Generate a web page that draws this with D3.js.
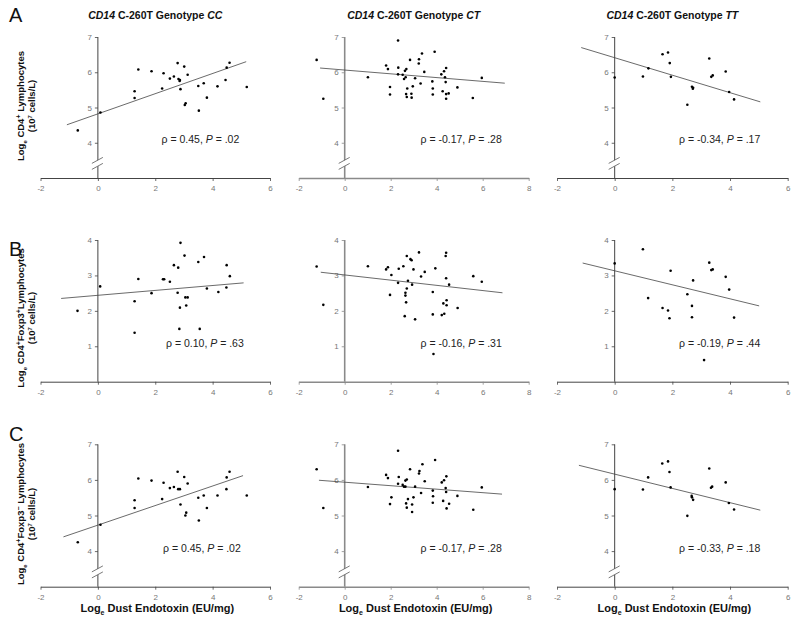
<!DOCTYPE html>
<html><head><meta charset="utf-8">
<script src="https://cdn.jsdelivr.net/npm/d3@7"></script>
<style>body{margin:0;background:#fff}svg{display:block}text{font-family:"Liberation Sans",Arial,sans-serif}</style>
</head><body><svg id="c" width="800" height="619"></svg>
<script>
// ---------- data ----------
const genotypes = ["CC", "CT", "TT"];
const rowLetters = ["A", "B", "C"];
const xTicksCol = [[-2,0,2,4,6],[-2,0,2,4,6,8],[-2,0,2,4,6]];
const yTicksRow = [[4,5,6,7],[1,2,3,4],[4,5,6,7]];

const aCC = [[-0.70,4.35],[0.09,4.86],[1.28,5.46],[1.28,5.27],[1.41,6.08],[1.87,6.03],[2.24,5.54],[2.29,5.97],[2.51,5.82],[2.65,5.88],[2.78,6.26],[2.81,5.81],[2.85,5.75],[2.86,5.78],[2.88,5.52],[3.01,6.16],[3.06,5.12],[3.03,5.07],[3.13,5.93],[3.50,5.61],[3.52,4.91],[3.69,5.69],[3.80,5.28],[4.17,5.60],[4.45,5.78],[4.49,6.13],[4.59,6.27],[5.19,5.58]];
const aCT = [[-1.22,6.35],[-0.93,5.25],[1.01,5.86],[1.80,6.19],[1.88,6.09],[1.97,5.58],[1.97,5.37],[2.32,6.90],[2.33,6.13],[2.32,5.94],[2.52,5.93],[2.58,5.81],[2.62,6.04],[2.65,5.86],[2.68,6.09],[2.67,5.38],[2.70,5.30],[2.72,5.54],[2.84,6.35],[2.90,5.39],[2.91,5.28],[2.96,5.60],[3.06,5.83],[3.22,6.25],[3.23,6.37],[3.30,5.68],[3.36,6.53],[3.46,6.01],[3.81,5.74],[3.83,5.54],[3.83,5.37],[3.91,6.58],[4.20,5.94],[4.26,5.46],[4.32,6.03],[4.36,5.86],[4.41,5.38],[4.41,6.12],[4.39,5.72],[4.41,5.25],[4.52,5.40],[4.90,5.57],[5.57,5.27],[5.96,5.84]];
const aTT = [[0,5.85],[0.98,5.88],[1.17,6.11],[1.66,6.51],[1.85,6.56],[1.91,6.26],[1.95,5.87],[2.52,5.08],[2.68,5.59],[2.71,5.53],[2.72,5.56],[3.28,6.39],[3.35,5.87],[3.40,5.91],[3.85,6.02],[3.97,5.44],[4.14,5.23]];

const bCC = [[-0.71,2.00],[0.08,2.69],[1.28,2.27],[1.28,1.38],[1.41,2.90],[1.87,2.50],[2.27,2.89],[2.31,2.89],[2.51,2.82],[2.65,3.29],[2.78,2.51],[2.80,3.22],[2.86,2.09],[2.88,3.92],[2.84,1.49],[3.02,3.56],[3.05,2.38],[3.13,2.38],[3.08,2.15],[3.50,3.38],[3.55,1.49],[3.70,3.52],[3.80,2.63],[4.20,2.53],[4.48,2.66],[4.49,3.29],[4.60,2.98]];
const bCT = [[-1.22,3.25],[-0.93,2.17],[1.01,3.26],[1.80,3.17],[1.88,3.23],[2.03,3.01],[1.97,2.45],[2.32,2.79],[2.35,3.19],[2.55,3.26],[2.61,1.85],[2.64,2.51],[2.64,2.43],[2.67,2.24],[2.70,3.55],[2.70,2.63],[2.75,2.85],[2.86,3.46],[2.91,3.43],[2.93,2.74],[2.99,3.17],[3.06,1.76],[3.23,3.65],[3.32,2.97],[3.48,3.10],[3.83,2.53],[3.83,1.90],[3.86,0.78],[3.94,3.20],[4.22,1.88],[4.29,2.21],[4.33,1.92],[4.39,3.55],[4.41,3.64],[4.41,2.92],[4.43,2.30],[4.43,2.16],[4.54,2.74],[4.91,2.08],[5.59,2.98],[5.96,2.82]];
const bTT = [[0,3.34],[0.98,3.74],[1.16,2.36],[1.66,2.08],[1.85,2.01],[1.90,1.79],[1.94,3.13],[2.52,2.47],[2.68,2.14],[2.68,1.82],[2.72,2.86],[3.10,0.61],[3.28,3.36],[3.35,3.15],[3.40,3.17],[3.85,2.96],[3.97,2.60],[4.14,1.81]];

const cCC = [[-0.70,4.25],[0.09,4.74],[1.28,5.43],[1.28,5.21],[1.41,6.04],[1.87,5.98],[2.24,5.46],[2.29,5.92],[2.51,5.77],[2.65,5.80],[2.78,6.23],[2.80,5.74],[2.86,5.74],[2.88,5.31],[3.01,6.08],[3.08,5.08],[3.05,5.00],[3.13,5.90],[3.50,5.50],[3.52,4.86],[3.69,5.56],[3.80,5.21],[4.17,5.56],[4.48,5.74],[4.49,6.07],[4.59,6.23],[5.19,5.56]];
const cCT = [[-1.22,6.30],[-0.93,5.21],[1.01,5.80],[1.80,6.14],[1.88,6.05],[2.03,5.51],[1.97,5.32],[2.32,6.82],[2.35,6.08],[2.32,5.89],[2.52,5.86],[2.58,5.81],[2.64,5.98],[2.64,5.81],[2.70,6.01],[2.67,5.34],[2.70,5.22],[2.75,5.46],[2.84,6.30],[2.93,5.31],[2.93,5.10],[2.99,5.51],[3.06,5.81],[3.23,6.18],[3.25,6.25],[3.32,5.63],[3.38,6.44],[3.48,5.96],[3.83,5.70],[3.84,5.54],[3.83,5.36],[3.93,6.56],[4.22,5.93],[4.28,5.41],[4.32,5.99],[4.39,5.77],[4.41,5.66],[4.42,6.10],[4.43,5.20],[4.54,5.33],[4.90,5.55],[5.59,5.16],[5.96,5.79]];
const cTT = [[0,5.74],[0.98,5.73],[1.16,6.07],[1.65,6.46],[1.85,6.52],[1.90,6.22],[1.94,5.79],[2.52,4.99],[2.67,5.55],[2.68,5.51],[2.72,5.44],[3.28,6.32],[3.34,5.78],[3.38,5.81],[3.85,5.93],[3.96,5.35],[4.14,5.17]];

// regression line end points [x1, y1, x2, y2]
const fitLines = [
  [[-1.08,4.51,5.17,6.30],[-1.07,6.12,6.96,5.69],[-1.16,6.70,5.05,5.16]],
  [[-1.28,2.35,5.08,2.79],[-1.04,3.09,6.86,2.51],[-1.11,3.35,5.01,2.14]],
  [[-1.20,4.40,5.06,6.12],[-1.12,5.99,6.84,5.60],[-1.24,6.41,5.05,5.15]]
];
const rhoLabels = [["0.45",".02"],["-0.17",".28"],["-0.34",".17"],
                   ["0.10",".63"],["-0.16",".31"],["-0.19",".44"],
                   ["0.45",".02"],["-0.17",".28"],["-0.33",".18"]];
const points = [[aCC,aCT,aTT],[bCC,bCT,bTT],[cCC,cCT,cTT]];

// ---------- layout ----------
const svg = d3.select("#c");
const colX = [[40.5,270],[298.7,528.7],[557,787.7]];
const xDom = [[-2,6],[-2,8],[-2,6]];
const rowY = [[178,37],[381.7,240],[586.7,444.3]];
const yDom = [[3,7],[0,4],[3,7]];
const hasBreak = [true,false,true];
const statPos = [[161.5,143],[420.5,143],[679,143],[166,347],[420.5,347],[679,347],[163,552],[420.5,552],[679,552]];
const axisCol = ["#444","#8a8a8a","#444"];
const axisW = [1,1.6,1];
const labelCy = [106,318,514];

for (let r=0;r<3;r++){
  for (let c=0;c<3;c++){
    const x = d3.scaleLinear().domain(xDom[c]).range(colX[c]);
    const y = d3.scaleLinear().domain(yDom[r]).range(rowY[r]);
    const g = svg.append("g");
    const xa = g.append("g").attr("transform",`translate(0,${rowY[r][0]})`)
      .call(d3.axisBottom(x).tickValues(xTicksCol[c]).tickSize(3).tickSizeOuter(0).tickPadding(3).tickFormat(d=>String(d)));
    const ya = g.append("g").attr("transform",`translate(${x(0)},0)`)
      .call(d3.axisLeft(y).tickValues(yTicksRow[r]).tickSize(3).tickSizeOuter(0).tickPadding(3).tickFormat(d=>String(d)));
    [xa,ya].forEach(a=>{
      a.select(".domain").attr("stroke",axisCol[c]).attr("stroke-width",axisW[c]);
      a.selectAll(".tick line").attr("stroke",axisCol[c]).attr("stroke-width",0.8);
      a.selectAll(".tick text").attr("fill","#777").style("font-size","8px").style("font-family","Liberation Sans, Arial, sans-serif");
    });
    xa.selectAll(".tick text").attr("dy","0.9em");
    ya.select(".domain").attr("d",`M0,${rowY[r][1]}V${rowY[r][0]}`);
    if (hasBreak[r]){
      const yb = y(3.5);
      const x0 = x(0);
      g.append("path").attr("d",`M${x0-6},${yb+3}L${x0+5},${yb-3}L${x0+5},${yb+3}L${x0-6},${yb+9}Z`)
        .attr("fill","#fff").attr("stroke","none");
      g.append("line").attr("x1",x0-6).attr("y1",yb+3).attr("x2",x0+5).attr("y2",yb-3).attr("stroke","#555").attr("stroke-width",0.8);
      g.append("line").attr("x1",x0-6).attr("y1",yb+9).attr("x2",x0+5).attr("y2",yb+3).attr("stroke","#555").attr("stroke-width",0.8);
    }
    const fl = fitLines[r][c];
    g.append("line").attr("x1",x(fl[0])).attr("y1",y(fl[1])).attr("x2",x(fl[2])).attr("y2",y(fl[3]))
      .attr("stroke","#444").attr("stroke-width",0.8);
    g.selectAll("circle.p").data(points[r][c]).enter().append("circle")
      .attr("cx",d=>x(d[0])).attr("cy",d=>y(d[1])).attr("r",1.3).attr("fill","#000");
    const k = r*3+c;
    const t = g.append("text").attr("x",statPos[k][0]).attr("y",statPos[k][1])
      .attr("fill","#222").style("font-size","10.5px");
    t.append("tspan").text(`\u03c1 = ${rhoLabels[k][0]}, `);
    t.append("tspan").style("font-style","italic").text("P");
    t.append("tspan").text(` = ${rhoLabels[k][1]}`);
    if (r===0){
      const tt = svg.append("text").attr("x",(colX[c][0]+colX[c][1])/2).attr("y",19)
        .attr("text-anchor","middle").style("font-size","10.5px").style("font-weight","bold").attr("fill","#111");
      tt.append("tspan").style("font-style","italic").text("CD14");
      tt.append("tspan").text(" C-260T Genotype ");
      tt.append("tspan").style("font-style","italic").text(genotypes[c]);
    }
    if (r===2){
      const xt = svg.append("text").attr("x",(colX[c][0]+colX[c][1])/2 + 2).attr("y",612)
        .attr("text-anchor","middle").style("font-size","11px").style("font-weight","bold").attr("fill","#111");
      xt.append("tspan").text("Log");
      xt.append("tspan").attr("dy",3).style("font-size","7px").text("e");
      xt.append("tspan").attr("dy",-3).text(" Dust Endotoxin (EU/mg)");
    }
  }
  svg.append("text").attr("x",9).attr("y",[22,256,441][r]).style("font-size","20px").attr("fill","#111").text(rowLetters[r]);
  const cy = labelCy[r];
  const l1 = svg.append("text").attr("transform",`translate(24,${cy}) rotate(-90)`).attr("text-anchor","middle")
    .style("font-size","9.5px").style("font-weight","bold").attr("fill","#111");
  l1.append("tspan").text("Log");
  l1.append("tspan").attr("dy",2.5).style("font-size","6px").text("e");
  l1.append("tspan").attr("dy",-2.5).text(" CD4");
  l1.append("tspan").attr("dy",-3.5).style("font-size","7px").text("+");
  if (r===0){
    l1.append("tspan").attr("dy",3.5).text(" Lymphocytes");
  } else {
    l1.append("tspan").attr("dy",3.5).text("Foxp3");
    l1.append("tspan").attr("dy",-3.5).style("font-size","7px").text(r===1?"+":"\u2212");
    l1.append("tspan").attr("dy",3.5).text(r===1?"Lymphocytes":" Lymphocytes");
  }
  const l2 = svg.append("text").attr("transform",`translate(35,${cy}) rotate(-90)`).attr("text-anchor","middle")
    .style("font-size","9.5px").style("font-weight","bold").attr("fill","#111");
  l2.append("tspan").text("(10");
  l2.append("tspan").attr("dy",-3.5).style("font-size","6px").text("7");
  l2.append("tspan").attr("dy",3.5).text(" cells/L)");
}
</script></body></html>
